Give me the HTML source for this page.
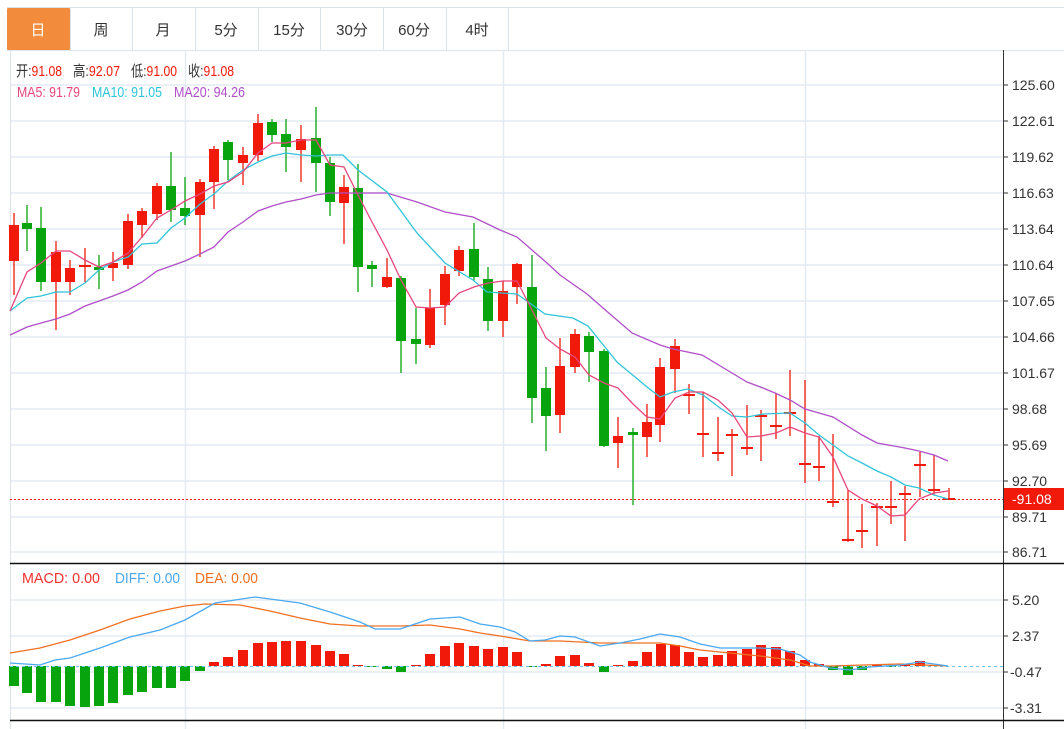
<!DOCTYPE html>
<html><head><meta charset="utf-8"><style>
html,body{margin:0;padding:0;background:#fff;width:1064px;height:729px;overflow:hidden}
svg{display:block}
text{font-family:"Liberation Sans","Noto Sans CJK SC",sans-serif}
</style></head><body>
<svg id="sv" width="1064" height="729" xmlns="http://www.w3.org/2000/svg">
<rect width="1064" height="729" fill="#fff"/>
<g stroke="#dde3ea" stroke-width="1" fill="none">
<line x1="7" y1="7.5" x2="1064" y2="7.5"/>
<line x1="7" y1="50.5" x2="1064" y2="50.5"/>
<line x1="70.5" y1="7" x2="70.5" y2="50"/>
<line x1="132.5" y1="7" x2="132.5" y2="50"/><line x1="195.5" y1="7" x2="195.5" y2="50"/>
<line x1="258.5" y1="7" x2="258.5" y2="50"/><line x1="320.5" y1="7" x2="320.5" y2="50"/>
<line x1="383.5" y1="7" x2="383.5" y2="50"/><line x1="446.5" y1="7" x2="446.5" y2="50"/>
<line x1="508.5" y1="7" x2="508.5" y2="50"/>
</g>
<rect x="7" y="8" width="63" height="42" fill="#f28c3c" rx="1"/>
<g font-size="15" text-anchor="middle" fill="#333">
<text x="38" y="35" fill="#fff">日</text><text x="101" y="35">周</text><text x="163" y="35">月</text>
<text x="226" y="35">5分</text><text x="289" y="35">15分</text><text x="352" y="35">30分</text>
<text x="414" y="35">60分</text><text x="477" y="35">4时</text>
</g>
<g stroke="#e3ebf2" stroke-width="1.5">
<line x1="10" y1="85" x2="1003" y2="85"/><line x1="10" y1="121" x2="1003" y2="121"/>
<line x1="10" y1="157" x2="1003" y2="157"/><line x1="10" y1="193" x2="1003" y2="193"/>
<line x1="10" y1="229" x2="1003" y2="229"/><line x1="10" y1="265" x2="1003" y2="265"/>
<line x1="10" y1="301" x2="1003" y2="301"/><line x1="10" y1="337" x2="1003" y2="337"/>
<line x1="10" y1="373" x2="1003" y2="373"/><line x1="10" y1="409" x2="1003" y2="409"/>
<line x1="10" y1="445" x2="1003" y2="445"/><line x1="10" y1="481" x2="1003" y2="481"/>
<line x1="10" y1="517" x2="1003" y2="517"/><line x1="10" y1="552" x2="1003" y2="552"/>
<line x1="10" y1="600" x2="1003" y2="600"/><line x1="10" y1="636" x2="1003" y2="636"/>
<line x1="10" y1="672" x2="1003" y2="672"/><line x1="10" y1="708" x2="1003" y2="708"/>
<line x1="185.5" y1="50" x2="185.5" y2="729"/><line x1="503.5" y1="50" x2="503.5" y2="729"/>
<line x1="805.5" y1="50" x2="805.5" y2="729"/>
</g>
<line x1="10.5" y1="50" x2="10.5" y2="729" stroke="#dde3ea"/>
<line x1="1003.5" y1="50" x2="1003.5" y2="729" stroke="#333"/>
<line x1="10" y1="563.5" x2="1064" y2="563.5" stroke="#111" stroke-width="1.5"/>
<line x1="10" y1="720.5" x2="1064" y2="720.5" stroke="#111" stroke-width="1.5"/>
<g stroke="#333"><line x1="1003" y1="85" x2="1008" y2="85"/><line x1="1003" y1="121" x2="1008" y2="121"/><line x1="1003" y1="157" x2="1008" y2="157"/><line x1="1003" y1="193" x2="1008" y2="193"/><line x1="1003" y1="229" x2="1008" y2="229"/><line x1="1003" y1="265" x2="1008" y2="265"/><line x1="1003" y1="301" x2="1008" y2="301"/><line x1="1003" y1="337" x2="1008" y2="337"/><line x1="1003" y1="373" x2="1008" y2="373"/><line x1="1003" y1="409" x2="1008" y2="409"/><line x1="1003" y1="445" x2="1008" y2="445"/><line x1="1003" y1="481" x2="1008" y2="481"/><line x1="1003" y1="517" x2="1008" y2="517"/><line x1="1003" y1="552" x2="1008" y2="552"/><line x1="1003" y1="600" x2="1008" y2="600"/><line x1="1003" y1="636" x2="1008" y2="636"/><line x1="1003" y1="672" x2="1008" y2="672"/><line x1="1003" y1="708" x2="1008" y2="708"/></g>
<g font-size="14" fill="#333">
<text x="1012" y="90">125.60</text><text x="1012" y="126">122.61</text><text x="1012" y="162">119.62</text>
<text x="1012" y="198">116.63</text><text x="1012" y="234">113.64</text><text x="1012" y="270">110.64</text>
<text x="1012" y="306">107.65</text><text x="1012" y="342">104.66</text><text x="1012" y="378">101.67</text>
<text x="1012" y="414">98.68</text><text x="1012" y="450">95.69</text><text x="1012" y="486">92.70</text>
<text x="1012" y="522">89.71</text><text x="1012" y="557">86.71</text>
<text x="1012" y="605">5.20</text><text x="1012" y="641">2.37</text><text x="1010" y="677">-0.47</text><text x="1010" y="713">-3.31</text>
</g>
<g font-size="15">
<text x="16" y="76" fill="#333" textLength="46" lengthAdjust="spacingAndGlyphs">开:<tspan fill="#f0190a">91.08</tspan></text>
<text x="73" y="76" fill="#333" textLength="47" lengthAdjust="spacingAndGlyphs">高:<tspan fill="#f0190a">92.07</tspan></text>
<text x="131" y="76" fill="#333" textLength="46" lengthAdjust="spacingAndGlyphs">低:<tspan fill="#f0190a">91.00</tspan></text>
<text x="188" y="76" fill="#333" textLength="46" lengthAdjust="spacingAndGlyphs">收:<tspan fill="#f0190a">91.08</tspan></text>
<text x="17" y="97" fill="#e8467c" textLength="63" lengthAdjust="spacingAndGlyphs">MA5: 91.79</text>
<text x="92" y="97" fill="#2fc4d8" textLength="70" lengthAdjust="spacingAndGlyphs">MA10: 91.05</text>
<text x="174" y="97" fill="#b04fc8" textLength="71" lengthAdjust="spacingAndGlyphs">MA20: 94.26</text>
<text x="22" y="583" fill="#f03030" textLength="78" lengthAdjust="spacingAndGlyphs">MACD: 0.00</text>
<text x="115" y="583" fill="#4aa8f0" textLength="65" lengthAdjust="spacingAndGlyphs">DIFF: 0.00</text>
<text x="195" y="583" fill="#f07020" textLength="63" lengthAdjust="spacingAndGlyphs">DEA: 0.00</text>
<text x="22" y="739" fill="#2fc4d8">K:0.00</text><text x="80" y="739" fill="#8a4fd8">D:0.00</text><text x="140" y="739" fill="#3cb44b">J:0.00</text>
</g>
<line x1="10" y1="499.5" x2="1003" y2="499.5" stroke="#f0190a" stroke-dasharray="2,2"/>
<rect x="1004" y="488" width="60" height="22" fill="#f0190a"/>
<text x="1012" y="504" font-size="14" fill="#fff">-91.08</text>
<g id="c"></g>
<g id="m"></g>
<polyline fill="none" stroke="#b04fc8" stroke-width="1.3" points="10,335 27,327 41,323 56,319 70,314 85,306 99,301 113,296 128,290 142,282 157,271 171,266 185,261 200,254 214,247 228,232 243,222 258,211 272,206 286,202 301,199 316,195 330,193 343,193 387,193 417,202 445,212 473,217 500,230 517,237 547,263 560,275 587,294 603,308 632,333 660,345 673,349 702,355 727,370 747,382 763,388 775,393 790,400 805,409 833,417 862,435 877,443 905,448 919,451 934,455 948,461"/>
<polyline fill="none" stroke="#2fc4d8" stroke-width="1.3" points="10,311 27,298 41,296 56,292 70,292 85,283 99,270 113,262 128,257 142,244 157,243 171,228 185,218 200,204 214,194 228,181 243,170 258,162 272,156 286,153 301,155 316,156 330,155 343,155 358,170 387,192 417,233 445,263 473,280 487,292 517,294 545,314 573,318 588,326 617,362 647,387 660,397 673,392 688,389 703,395 720,408 732,416 747,417 763,414 790,413 805,423 819,435 833,445 848,456 862,463 877,471 891,477 905,485 919,488 934,495 948,499"/>
<polyline fill="none" stroke="#e8467c" stroke-width="1.3" points="10,311 27,272 41,263 56,251 70,251 85,260 99,267 113,262 128,253 142,237 157,218 171,210 185,201 200,194 214,186 228,182 243,172 258,153 272,143 286,143 301,140 316,140 330,165 344,167 358,195 372,222 387,250 401,280 416,307 430,308 445,307 459,293 474,287 488,283 503,281 517,281 532,310 546,338 560,349 575,357 589,375 604,383 618,388 633,404 647,417 660,419 675,398 689,392 703,392 718,400 732,413 747,437 761,436 776,433 790,427 805,433 819,437 833,457 848,490 862,499 877,506 891,516 905,515 919,499 934,493 948,491"/>
<line x1="10" y1="666.5" x2="1003" y2="666.5" stroke="#6cc8f0" stroke-dasharray="3,3"/>
<g id="lines">
<polyline fill="none" stroke="#f07020" stroke-width="1.3" points="10,653 40,648 70,640 100,630 130,619 160,611 185,606 205,604 240,605 270,611 300,618 330,624 360,626 400,626 430,625 460,629 480,633 500,636 530,641 560,641 600,643 640,643 660,643 680,646 700,650 730,653 760,656 790,660 810,666 830,666 900,664 948,666"/>
<polyline fill="none" stroke="#4aa8f0" stroke-width="1.3" points="10,663 40,665 55,660 70,658 100,648 130,637 160,630 185,620 215,603 255,597 300,603 330,612 360,622 375,629 400,629 415,624 430,619 460,617 480,624 500,627 515,632 530,641 545,640 560,636 575,637 600,646 620,643 640,639 660,634 680,637 700,644 720,648 760,648 780,649 800,655 810,662 830,668 850,670 870,667 900,665 920,662 948,666"/>
</g>
</svg>
<script>
(function(){
var NS="http://www.w3.org/2000/svg";
var C=[[14,225,261,213,295,'r'],[27,223,229,205,251,'g'],[41,228,282,207,291,'g'],[56,252,282,241,330,'r'],[70,268,282,260,295,'r'],[85,265,267,248,282,'r'],[99,267,270,255,289,'g'],[113,263,268,252,281,'r'],[128,221,265,214,269,'r'],[142,211,225,208,238,'r'],[157,186,214,183,220,'r'],[171,186,210,152,222,'g'],[185,208,216,177,225,'g'],[200,182,215,179,257,'r'],[214,149,182,146,209,'r'],[228,142,160,140,180,'g'],[243,155,163,147,185,'r'],[258,123,155,114,161,'r'],[272,122,135,119,142,'g'],[286,134,147,119,172,'g'],[301,139,150,125,182,'r'],[316,138,163,107,192,'g'],[330,163,202,157,216,'g'],[344,187,203,175,244,'r'],[358,188,267,164,292,'g'],[372,265,269,261,287,'g'],[387,277,287,258,288,'r'],[401,278,341,276,373,'g'],[416,339,344,308,364,'g'],[430,308,345,289,348,'r'],[445,274,305,266,325,'r'],[459,250,271,246,276,'r'],[474,249,277,223,281,'g'],[488,279,321,267,331,'g'],[503,291,321,281,337,'r'],[517,264,287,263,304,'r'],[532,287,398,255,423,'g'],[546,388,416,367,451,'g'],[560,366,415,338,433,'r'],[575,334,367,329,373,'r'],[589,336,352,332,382,'g'],[604,351,446,349,447,'g'],[618,436,443,417,468,'r'],[633,432,435,428,505,'g'],[647,422,437,404,457,'r'],[660,367,425,358,442,'r'],[675,346,369,339,393,'r'],[689,394,396,384,414,'r'],[703,433,435,392,457,'r'],[718,452,454,417,461,'r'],[732,434,436,429,476,'r'],[747,447,449,405,455,'r'],[761,415,417,410,461,'r'],[776,425,427,394,439,'r'],[790,412,414,370,436,'r'],[805,463,465,380,483,'r'],[819,466,468,436,481,'r'],[833,501,503,434,507,'r'],[848,539,541,490,542,'r'],[862,530,532,504,548,'r'],[877,506,508,503,546,'r'],[891,506,508,481,524,'r'],[905,493,495,486,541,'r'],[920,464,466,452,497,'r'],[934,489,491,455,495,'r'],[949,498,500,488,499,'r']];
var M=[[14,686],[27,693],[41,702],[56,702],[70,706],[85,707],[99,706],[113,703],[128,695],[142,692],[157,688],[171,688],[185,681],[200,671],[214,662],[228,657],[243,650],[258,643],[272,642],[286,641],[301,641],[316,645],[330,651],[344,654],[358,665],[372,666],[387,669],[401,672],[416,665],[430,654],[445,646],[459,643],[474,646],[488,649],[503,647],[517,652],[532,667],[546,664],[560,656],[575,655],[589,663],[604,672],[618,665],[633,661],[647,652],[661,644],[675,645],[689,652],[703,657],[718,655],[732,651],[747,649],[761,645],[776,647],[790,651],[805,660],[819,664],[833,670],[848,675],[862,670],[877,665],[891,666],[905,664],[920,661],[934,665]];
var cr={r:'#f0190a',g:'#08a40e'};
function el(n,a,p){var e=document.createElementNS(NS,n);for(var k in a)e.setAttribute(k,a[k]);p.appendChild(e);}
var g=document.getElementById('c'),m=document.getElementById('m');
for(var i=0;i<C.length;i++){var c=C[i],col=cr[c[5]];
el('line',{x1:c[0],y1:c[3],x2:c[0],y2:c[4],stroke:col,'stroke-width':1.3},g);
var h=Math.max(c[2]-c[1],2);
el('rect',{x:(h<=2?c[0]-6:c[0]-5),y:c[1],width:(h<=2?12:10),height:h,fill:col},g);}
for(var j=0;j<M.length;j++){var b=M[j],z=666,col2=b[1]<z?'#f0190a':'#08a40e';
el('rect',{x:b[0]-5,y:Math.min(b[1],z),width:10,height:Math.max(Math.abs(b[1]-z),1),fill:col2},m);}
})();
</script>
</body></html>
